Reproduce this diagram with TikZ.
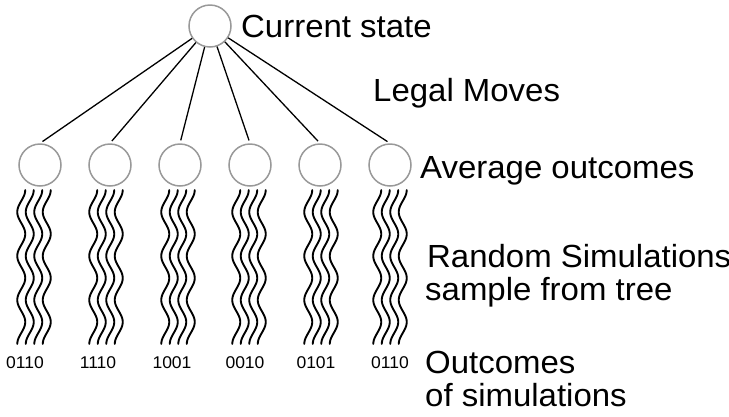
\documentclass[tikz,border=0pt]{standalone}
\usepackage{fontspec}
\setmainfont{Liberation Sans}[FakeStretch=1.03]
\definecolor{stategray}{gray}{0.6}
\begin{document}
\begin{tikzpicture}[x=1pt,y=-1pt,
  state/.style={circle,draw=stategray,line width=1.5pt,minimum size=42pt,inner sep=0pt},
  edge/.style={line width=1.3pt,black},
  rollout/.style={line width=1.9pt,black,line cap=round},
  caption/.style={anchor=base west,inner sep=0pt,font=\fontsize{32}{34}\selectfont},
  result/.style={anchor=base,inner sep=0pt,font=\fontsize{17}{19}\selectfont}]
\useasboundingbox (0,0) rectangle (729,416);
\clip (0,0) rectangle (729,416);

% root and the six move nodes
\node[state] (root) at (210,26) {};
\foreach \i/\x in {1/40,2/110,3/180,4/250,5/320,6/390}
  \node[state] (m\i) at (\x,165) {};
\foreach \i in {1,...,6}
  \draw[edge,shorten >=3pt] (root) -- (m\i.north);

% four random playouts under each move (period 44, in degrees per unit)
\foreach \c in {34,106,178,249,321,390}
  \foreach \d in {-12.75,-4.25,4.25,12.75}
    \draw[rollout] plot[domain=0:154,samples=90,smooth,variable=\t]
      ({\c+\d+4*cos(8.1818*\t)},{190+\t});

% playout results
\foreach \i/\x/\s in {1/25/0110,2/98/1110,3/172/1001,4/245/0010,5/316/0101,6/390/0110}
  \node[result] (r\i) at (\x,368) {\s};

% captions
\node[caption] (cur) at (241,37) {Current state};
\node[caption] (legal) at (373,101) {Legal Moves};
\node[caption] (avg) at (420,178) {Average outcomes};
\node[caption] (sim) at (427,267) {Random Simulations};
\node[caption] (samp) at (425,300) {sample from tree};
\node[caption] (outc) at (425,373) {Outcomes};
\node[caption] (ofsim) at (425,406) {of simulations};
\end{tikzpicture}
\end{document}
